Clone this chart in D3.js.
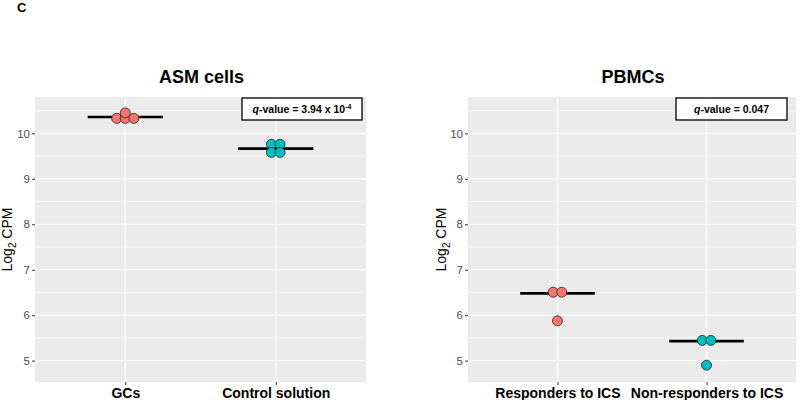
<!DOCTYPE html>
<html><head><meta charset="utf-8">
<script src="https://cdn.jsdelivr.net/npm/d3@7"></script>
<style>body{margin:0;background:#fff}text{font-family:"Liberation Sans",Arial,sans-serif}</style>
</head><body><svg id="c" width="800" height="400"></svg>
<script>
// ---- data ----
const panelTitles = ["ASM cells", "PBMCs"];
const asmCategories = ["GCs", "Control solution"];
const asmValues = [[10.33, 10.33, 10.33, 10.45], [9.76, 9.76, 9.58, 9.58]];
const asmMedians = [10.36, 9.665];
const asmQ = {base: "-value = 3.94 x 10", exp: "-4"};
const pbmcCategories = ["Responders to ICS", "Non-responders to ICS"];
const pbmcValues = [[6.505, 6.505, 5.875], [5.445, 5.445, 4.90]];
const pbmcMedians = [6.48, 5.43];
const pbmcQ = {base: "-value = 0.047", exp: ""};
const yTicks = [5, 6, 7, 8, 9, 10];
const yMinor = [4.5, 5.5, 6.5, 7.5, 8.5, 9.5, 10.5];
const colors = ["#F8766D", "#00BFC4"];

const svg = d3.select("#c");
svg.append("text").attr("x", 17).attr("y", 12).attr("font-size", 13).attr("font-weight", "bold").text("C");

function panel(opts) {
  const {x0, x1, title, cats, values, medians, q, box, labelX} = opts;
  const top = 97, bottom = 382;
  const y = d3.scaleLinear().domain([4.53, 10.8]).range([bottom, top]);
  const x = d3.scaleLinear().domain([0.4, 2.6]).range([x0, x1]);
  const g = svg.append("g");
  g.append("rect").attr("x", x0).attr("y", top).attr("width", x1 - x0).attr("height", bottom - top).attr("fill", "#EBEBEB");
  g.selectAll(".ymin").data(yMinor).join("line").attr("x1", x0).attr("x2", x1)
    .attr("y1", d => y(d)).attr("y2", d => y(d)).attr("stroke", "#fff").attr("stroke-width", 0.6);
  g.selectAll(".ymaj").data(yTicks).join("line").attr("x1", x0).attr("x2", x1)
    .attr("y1", d => y(d)).attr("y2", d => y(d)).attr("stroke", "#fff").attr("stroke-width", 1.2);
  g.selectAll(".xmaj").data(cats).join("line").attr("x1", (d, i) => x(i + 1)).attr("x2", (d, i) => x(i + 1))
    .attr("y1", top).attr("y2", bottom).attr("stroke", "#fff").attr("stroke-width", 1.2);
  // y axis
  const ax = g.append("g").attr("transform", `translate(${x0},0)`)
    .call(d3.axisLeft(y).tickValues(yTicks).tickSize(3).tickPadding(2).tickFormat(d3.format("d")));
  ax.select(".domain").remove();
  ax.selectAll(".tick line").attr("stroke", "#333");
  ax.selectAll(".tick text").attr("fill", "#4D4D4D").attr("font-size", 11.5).attr("font-family", "Liberation Sans, Arial, sans-serif");
  // x axis labels
  const bx = g.append("g").attr("transform", `translate(0,${bottom})`)
    .call(d3.axisBottom(x).tickValues([1, 2]).tickSize(3).tickPadding(3).tickFormat(d => cats[d - 1]));
  bx.select(".domain").remove();
  bx.selectAll(".tick line").attr("stroke", "#333");
  bx.selectAll(".tick text").attr("fill", "#000").attr("font-size", 14).attr("font-weight", "bold")
    .attr("font-family", "Liberation Sans, Arial, sans-serif");
  // title
  g.append("text").attr("x", (x0 + x1) / 2 + 1).attr("y", 83).attr("text-anchor", "middle")
    .attr("font-size", 18).attr("font-weight", "bold").text(title);
  // y label
  const yl = g.append("text").attr("transform", `translate(${labelX},${(top + bottom) / 2}) rotate(-90)`)
    .attr("text-anchor", "middle").attr("font-size", 14);
  yl.append("tspan").text("Log");
  yl.append("tspan").attr("font-size", 10).attr("dy", 4).text("2");
  yl.append("tspan").attr("dy", -4).text(" CPM");
  // median lines
  g.selectAll(".med").data(medians).join("line")
    .attr("x1", (d, i) => x(i + 1 - 0.25)).attr("x2", (d, i) => x(i + 1 + 0.25))
    .attr("y1", d => y(d)).attr("y2", d => y(d)).attr("stroke", "#000").attr("stroke-width", 2.6);
  // dots, centre-stacked within equal-value bins
  const spacing = 8.6;
  values.forEach((vals, gi) => {
    const bins = d3.group(vals, v => v);
    const pts = [];
    bins.forEach((arr, v) => arr.forEach((_, k) => pts.push({v, off: (k - (arr.length - 1) / 2) * spacing})));
    g.selectAll(null).data(pts).join("circle")
      .attr("cx", d => x(gi + 1) + d.off).attr("cy", d => y(d.v)).attr("r", 5)
      .attr("fill", colors[gi]).attr("stroke", "#222").attr("stroke-width", 0.8);
  });
  // q-value box
  g.append("rect").attr("x", box[0]).attr("y", 98).attr("width", box[1] - box[0]).attr("height", 22)
    .attr("fill", "#fff").attr("stroke", "#000").attr("stroke-width", 1.3);
  const t = g.append("text").attr("x", (box[0] + box[1]) / 2).attr("y", 113).attr("text-anchor", "middle")
    .attr("font-size", 10.5).attr("font-weight", "bold");
  t.append("tspan").attr("font-style", "italic").text("q");
  t.append("tspan").text(q.base);
  if (q.exp) t.append("tspan").attr("font-size", 7).attr("dy", -4).text(q.exp);
}

panel({x0: 35, x1: 366, title: panelTitles[0], cats: asmCategories, values: asmValues, medians: asmMedians, q: asmQ, box: [242, 362], labelX: 12});
panel({x0: 468, x1: 796, title: panelTitles[1], cats: pbmcCategories, values: pbmcValues, medians: pbmcMedians, q: pbmcQ, box: [676, 787], labelX: 446});
</script></body></html>
